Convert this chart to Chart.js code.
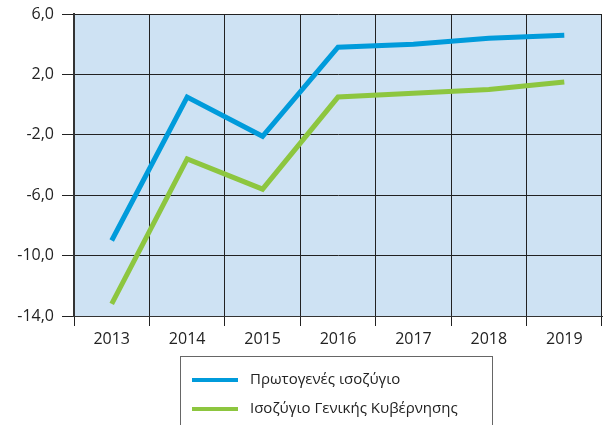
<!DOCTYPE html>
<html>
<head>
<meta charset="utf-8">
<script src="https://cdn.jsdelivr.net/npm/chart.js@4.4.1/dist/chart.umd.min.js"></script>
<style>
html,body{margin:0;padding:0;background:#fff;}
canvas{display:block;}
</style>
</head>
<body>
<canvas id="c" width="603" height="425"></canvas>
<script>
const categories = ['2013','2014','2015','2016','2017','2018','2019'];
const primaryBalance = [-9.0, 0.5, -2.1, 3.8, 4.0, 4.4, 4.6];
const generalGovBalance = [-13.2, -3.6, -5.6, 0.5, 0.75, 1.0, 1.5];
const seriesLabels = ['Πρωτογενές ισοζύγιο', 'Ισοζύγιο Γενικής Κυβέρνησης'];
const seriesColors = ['#009bdb', '#8dc63f'];
const yMin = -14, yMax = 6, yStep = 4;

const FONT = '"Open Sans", "DejaVu Sans", sans-serif';

const bgPlugin = {
  id: 'bg',
  beforeDraw(chart) {
    const a = chart.chartArea, ctx = chart.ctx;
    ctx.save();
    ctx.fillStyle = '#cee2f3';
    ctx.fillRect(a.left, a.top, a.right - a.left, a.bottom - a.top);
    ctx.restore();
  }
};

const legendBoxPlugin = {
  id: 'legendBox',
  afterDraw(chart) {
    const ctx = chart.ctx;
    ctx.save();
    ctx.strokeStyle = '#666';
    ctx.lineWidth = 1;
    ctx.strokeRect(180.5, 356.5, 312, 80);
    const rows = [380, 409];
    chart.data.datasets.forEach((ds, i) => {
      ctx.strokeStyle = ds.borderColor;
      ctx.lineWidth = 4;
      ctx.beginPath();
      ctx.moveTo(192, rows[i]);
      ctx.lineTo(238, rows[i]);
      ctx.stroke();
      ctx.fillStyle = '#222';
      ctx.font = '15px ' + FONT;
      ctx.textBaseline = 'middle';
      ctx.textAlign = 'left';
      ctx.fillText(ds.label, 250, rows[i]);
    });
    ctx.restore();
  }
};

new Chart(document.getElementById('c'), {
  type: 'line',
  data: {
    labels: categories,
    datasets: [
      { label: seriesLabels[0], data: primaryBalance, borderColor: seriesColors[0], backgroundColor: seriesColors[0] },
      { label: seriesLabels[1], data: generalGovBalance, borderColor: seriesColors[1], backgroundColor: seriesColors[1] }
    ]
  },
  options: {
    responsive: false,
    animation: false,
    layout: { padding: { top: 14, right: 1, bottom: 69, left: 0 } },
    elements: {
      line: { borderWidth: 5, tension: 0, borderJoinStyle: 'miter', borderCapStyle: 'butt' },
      point: { radius: 0, hoverRadius: 0 }
    },
    plugins: { legend: { display: false }, tooltip: { enabled: false } },
    scales: {
      x: {
        offset: true,
        grid: { offset: true, color: '#222', lineWidth: 1, tickLength: 10, tickColor: '#222', drawOnChartArea: true },
        border: { display: true, color: '#333', width: 1 },
        ticks: { color: '#222', font: { family: FONT, size: 16 }, padding: 4, maxRotation: 0 },
        afterFit(s) { s.height = 40; s.paddingLeft = 0; s.paddingRight = 0; }
      },
      y: {
        min: yMin, max: yMax,
        grid: { color: '#222', lineWidth: 1, tickLength: 12, tickColor: '#222' },
        border: { display: true, color: '#333', width: 2 },
        ticks: {
          stepSize: yStep, color: '#222', font: { family: FONT, size: 16 }, padding: 8,
          callback: v => v.toFixed(1).replace('.', ',')
        },
        afterFit(s) { s.width = 74; s.paddingTop = 0; s.paddingBottom = 0; }
      }
    }
  },
  plugins: [bgPlugin, legendBoxPlugin]
});
</script>
</body>
</html>
